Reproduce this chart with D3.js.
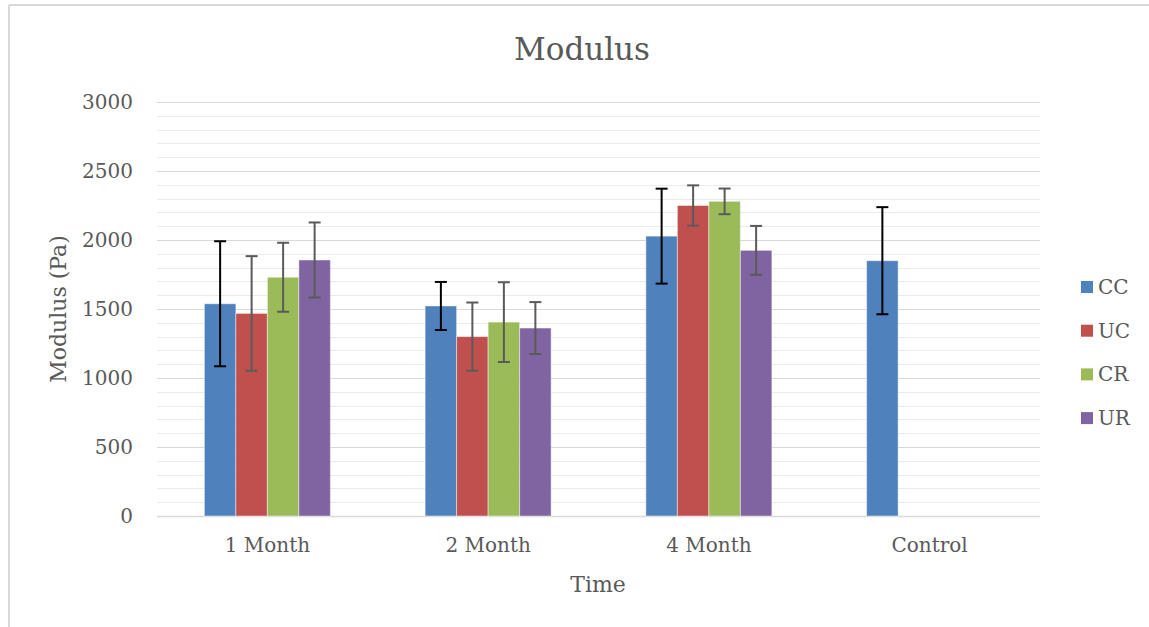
<!DOCTYPE html>
<html>
<head>
<meta charset="utf-8">
<script src="https://cdn.jsdelivr.net/npm/d3@7"></script>
<style>
  body { margin: 0; background: #fff; }
  text { font-family: "DejaVu Serif", serif; fill: #595959; }
</style>
</head>
<body>
<div id="chart"></div>
<script>
// data
const categories = ['1 Month', '2 Month', '4 Month', 'Control']
const series = ['CC', 'UC', 'CR', 'UR']
const colors = ['#4F81BD', '#C0504D', '#9BBB59', '#8064A2']

const ccValues = [1538, 1522, 2028, 1850]
const ucValues = [1468, 1300, 2250, null]
const crValues = [1730, 1405, 2280, null]
const urValues = [1855, 1362, 1925, null]

const ccErr = [453, 174, 344, 388]
const ucErr = [415, 247, 146, null]
const crErr = [250, 289, 93, null]
const urErr = [272, 188, 177, null]

const yTicks = [0, 500, 1000, 1500, 2000, 2500, 3000]

const width = 1149, height = 627
const plot = {left: 157, right: 1040, top: 102, bottom: 516}

const svg = d3.select('#chart').append('svg')
  .attr('width', width)
  .attr('height', height)

// outer frame (only top and left edges show)
svg.append('line').attr('x1', 9).attr('x2', width).attr('y1', 5).attr('y2', 5)
  .attr('stroke', '#d9d9d9').attr('stroke-width', 2)
svg.append('line').attr('x1', 9).attr('x2', 9).attr('y1', 5).attr('y2', height)
  .attr('stroke', '#d9d9d9').attr('stroke-width', 2)

let x = d3.scaleBand().domain(categories).range([plot.left, plot.right])
let y = d3.scaleLinear().domain([0, 3000]).range([plot.bottom, plot.top])

const groupW = 126
let xs = d3.scaleBand().domain(series).range([-groupW / 2, groupW / 2])

// gridlines
let gridGroup = svg.append('g')
gridGroup.selectAll('line.minor')
  .data(d3.range(100, 3001, 100).filter(v => v % 500 !== 0))
  .enter().append('line')
  .attr('class', 'minor')
  .attr('x1', plot.left).attr('x2', plot.right)
  .attr('y1', d => Math.round(y(d)) + 0.5).attr('y2', d => Math.round(y(d)) + 0.5)
  .attr('stroke', '#ebebeb')

gridGroup.selectAll('line.major')
  .data(yTicks)
  .enter().append('line')
  .attr('class', 'major')
  .attr('x1', plot.left).attr('x2', plot.right)
  .attr('y1', d => Math.round(y(d)) + 0.5).attr('y2', d => Math.round(y(d)) + 0.5)
  .attr('stroke', '#d9d9d9')
  .attr('stroke-width', d => d === 0 ? 1.5 : 1)

// y axis labels
let yAxis = svg.append('g')
  .attr('transform', `translate(${plot.left - 24},0)`)
  .call(d3.axisLeft(y).tickValues(yTicks).tickFormat(d3.format('d')).tickSize(0).tickPadding(0))
yAxis.select('.domain').remove()
yAxis.selectAll('text')
  .style('font-family', '"DejaVu Serif", serif')
  .style('font-size', '20px')
  .attr('fill', '#595959')

// x axis labels
let xAxis = svg.append('g')
  .attr('transform', `translate(0,${plot.bottom})`)
  .call(d3.axisBottom(x).tickSize(0).tickPadding(22))
xAxis.select('.domain').remove()
xAxis.selectAll('text')
  .style('font-family', '"DejaVu Serif", serif')
  .style('font-size', '20px')
  .attr('fill', '#595959')

// bars
const rows = categories.map((c, i) => ({
  cat: c,
  vals: [
    {s: 'CC', v: ccValues[i], e: ccErr[i]},
    {s: 'UC', v: ucValues[i], e: ucErr[i]},
    {s: 'CR', v: crValues[i], e: crErr[i]},
    {s: 'UR', v: urValues[i], e: urErr[i]}
  ].filter(d => d.v != null)
}))

let color = d3.scaleOrdinal().domain(series).range(colors)

let barGroup = svg.append('g')
let groups = barGroup.selectAll('g')
  .data(rows)
  .enter().append('g')
  .attr('transform', d => `translate(${x(d.cat) + x.bandwidth() / 2},0)`)

groups.selectAll('rect')
  .data(d => d.vals)
  .enter().append('rect')
  .attr('x', d => xs(d.s))
  .attr('width', xs.bandwidth())
  .attr('y', d => y(d.v))
  .attr('height', d => y(0) - y(d.v))
  .attr('fill', d => color(d.s))
  .attr('stroke', '#ffffff')
  .attr('stroke-opacity', 0.45)
  .attr('stroke-width', 1)

// error bars
let errs = groups.selectAll('g.err')
  .data(d => d.vals)
  .enter().append('g')
  .attr('class', 'err')
  .attr('stroke', d => d.s === 'CC' ? '#000000' : '#5a5a5a')
  .attr('stroke-width', 2)

const cap = 6
errs.append('line')
  .attr('x1', d => xs(d.s) + xs.bandwidth() / 2)
  .attr('x2', d => xs(d.s) + xs.bandwidth() / 2)
  .attr('y1', d => y(d.v + d.e))
  .attr('y2', d => y(d.v - d.e))
errs.append('line')
  .attr('x1', d => xs(d.s) + xs.bandwidth() / 2 - cap)
  .attr('x2', d => xs(d.s) + xs.bandwidth() / 2 + cap)
  .attr('y1', d => y(d.v + d.e))
  .attr('y2', d => y(d.v + d.e))
errs.append('line')
  .attr('x1', d => xs(d.s) + xs.bandwidth() / 2 - cap)
  .attr('x2', d => xs(d.s) + xs.bandwidth() / 2 + cap)
  .attr('y1', d => y(d.v - d.e))
  .attr('y2', d => y(d.v - d.e))

// title
svg.append('text')
  .attr('x', 582)
  .attr('y', 60)
  .attr('text-anchor', 'middle')
  .style('font-size', '31px')
  .text('Modulus')

// axis titles
svg.append('text')
  .attr('x', 598)
  .attr('y', 592)
  .attr('text-anchor', 'middle')
  .style('font-size', '22px')
  .text('Time')

svg.append('text')
  .attr('transform', 'translate(66,309) rotate(-90)')
  .attr('text-anchor', 'middle')
  .style('font-size', '22px')
  .text('Modulus (Pa)')

// legend
let legend = svg.append('g')
  .selectAll('g')
  .data(series)
  .enter().append('g')
  .attr('transform', (d, i) => `translate(1081,${287 + i * 43.7})`)

legend.append('rect')
  .attr('x', 0).attr('y', -6)
  .attr('width', 12).attr('height', 12)
  .attr('fill', d => color(d))

legend.append('text')
  .attr('x', 17)
  .attr('dy', '0.35em')
  .style('font-size', '20px')
  .text(d => d)
</script>
</body>
</html>
